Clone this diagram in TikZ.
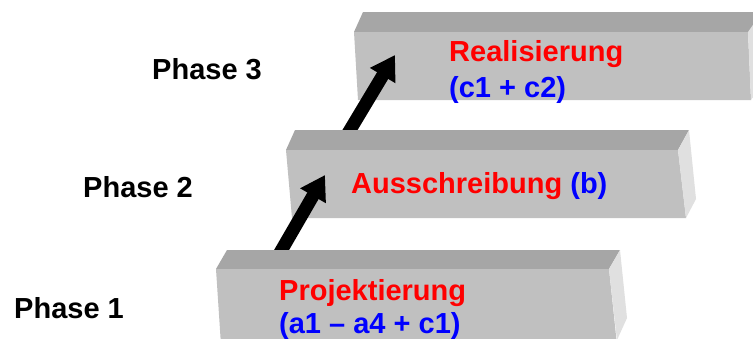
\documentclass[tikz,border=0pt]{standalone}
\usepackage{fontspec}
\setmainfont{Liberation Sans}
\usetikzlibrary{arrows.meta}
\definecolor{topface}{RGB}{166,166,166}
\definecolor{frontface}{RGB}{192,192,192}
\definecolor{sideface}{RGB}{224,224,224}
\definecolor{titlered}{RGB}{255,0,0}
\definecolor{codeblue}{RGB}{0,0,255}
\tikzset{
  topf/.style={fill=topface},
  frontf/.style={fill=frontface},
  sidef/.style={fill=sideface},
  lbl/.style={anchor=base west, inner sep=0pt, font=\fontsize{29}{35}\selectfont\bfseries},
  phase/.style={lbl, text=black},
  stage/.style={lbl, text=titlered},
  code/.style={lbl, text=codeblue},
  uparrow/.style={line width=13pt, -{Triangle[length=24pt,width=28pt]}, black}
}
\begin{document}
\begin{tikzpicture}[x=1pt,y=-1pt]
\clip (0,0) rectangle (753,338);
\fill[white] (0,0) rectangle (753,338);

% step 3 (top)
\fill[topf]   (363,12) -- (762,12) -- (749,32) -- (354,32) -- cycle;
\fill[frontf] (354,32) -- (748,32) -- (751,100) -- (358,100) -- cycle;
\fill[sidef]  (748,32) -- (762,12) -- (765,80) -- (751,100) -- cycle;
\coordinate (t3) at (395,55);

% arrow from step 2 to step 3
\coordinate (s2) at (338,150);
\draw[uparrow] (s2) -- (t3);

% step 2 (middle)
\fill[topf]   (295,130) -- (689,130) -- (678,150) -- (286,150) -- cycle;
\fill[frontf] (286,150) -- (678,150) -- (686,218) -- (292,218) -- cycle;
\fill[sidef]  (678,150) -- (689,130) -- (696,199) -- (686,218) -- cycle;
\coordinate (t2) at (325,175);

% arrow from step 1 to step 2
\coordinate (s1) at (270,270);
\draw[uparrow] (s1) -- (t2);

% step 1 (bottom)
\fill[topf]   (227,250) -- (620,250) -- (609,269) -- (216,269) -- cycle;
\fill[frontf] (216,269) -- (609,269) -- (617,345) -- (221,345) -- cycle;
\fill[sidef]  (609,269) -- (620,250) -- (627,318) -- (617,340) -- cycle;

% phase labels
\node[phase] (p3) at (152,79) {Phase 3};
\node[phase] (p2) at (83,197) {Phase 2};
\node[phase] (p1) at (14,318) {Phase 1};

% step texts
\node[stage] (real) at (449,61) {Realisierung};
\node[code]  (realc) at (449,97) {(c1 + c2)};
\node[lbl] (aus) at (351,193) {\textcolor{titlered}{Ausschreibung} \textcolor{codeblue}{(b)}};
\node[stage] (proj) at (279,300) {Projektierung};
\node[code]  (projc) at (279,333) {(a1 – a4 + c1)};
\end{tikzpicture}
\end{document}
